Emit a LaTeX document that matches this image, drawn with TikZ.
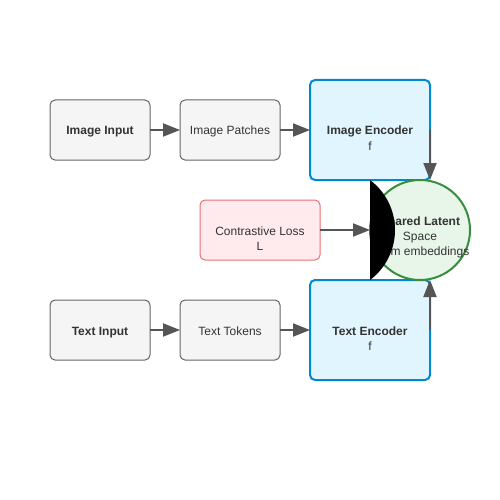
\documentclass[tikz,border=0pt]{standalone}
\usepackage{fontspec}
\setmainfont{Liberation Sans}
\usetikzlibrary{arrows.meta,calc}
\definecolor{txtc}{HTML}{333333}
\definecolor{grayfill}{HTML}{F5F5F5}
\definecolor{graystroke}{HTML}{666666}
\definecolor{bluefill}{HTML}{E1F5FE}
\definecolor{bluestroke}{HTML}{0288D1}
\definecolor{redfill}{HTML}{FFEBEE}
\definecolor{redstroke}{HTML}{E57373}
\definecolor{greenfill}{HTML}{E8F5E9}
\definecolor{greenstroke}{HTML}{388E3C}
\definecolor{arrc}{HTML}{555555}
\begin{document}
\begin{tikzpicture}[x=1pt,y=-1pt,
  every node/.style={inner sep=0pt, outer sep=0pt, text=txtc, font=\fontsize{12}{15}\selectfont},
  graybox/.style={draw=graystroke, fill=grayfill, line width=1pt, rounded corners=5pt, minimum width=100pt, minimum height=60pt},
  bluebox/.style={draw=bluestroke, fill=bluefill, line width=2pt, rounded corners=5pt, minimum width=120pt, minimum height=100pt},
  redbox/.style={draw=redstroke, fill=redfill, line width=1pt, rounded corners=5pt, minimum width=120pt, minimum height=60pt},
  latent/.style={circle, draw=greenstroke, fill=greenfill, line width=2pt, minimum size=100pt},
  txt/.style={anchor=base},
  arr/.style={draw=arrc, line width=2pt, -{Triangle[length=17pt,width=13pt]}}
]
\useasboundingbox (0,0) rectangle (500,500);
\fill[white] (0,0) rectangle (500,500);

% top row
\node[graybox] (ii) at (100,130) {};
\node[txt] (ii1) at (100,135) {\bfseries Image Input};
\node[graybox] (ip) at (230,130) {};
\node[txt] (ip1) at (230,135) {Image Patches};
\node[bluebox] (ie) at (370,130) {};
\node[txt] (ie1) at (370,135) {\bfseries Image Encoder};
\node[txt] (ie2) at (370,150) {f};

% bottom row
\node[graybox] (ti) at (100,330) {};
\node[txt] (ti1) at (100,335) {\bfseries Text Input};
\node[graybox] (tt) at (230,330) {};
\node[txt] (tt1) at (230,335) {Text Tokens};
\node[bluebox] (te) at (370,330) {};
\node[txt] (te1) at (370,335) {\bfseries Text Encoder};
\node[txt] (te2) at (370,350) {f};

% contrastive loss
\node[redbox] (cl) at (260,230) {};
\node[txt] (cl1) at (260,235) {Contrastive Loss};
\node[txt] (cl2) at (260,250) {L};

% latent space
\node[latent] (sls) at (420,230) {};
\node[txt] (sls1) at (420,225) {\bfseries Shared Latent};
\node[txt] (sls2) at (420,240) {Space};
\node[txt] (sls3) at (420,255) {d-dim embeddings};

% connectors
\draw[arr] (ii.east) -- (ip.west);
\draw[arr] (ip.east) -- (ie.west);
\draw[arr] (ti.east) -- (tt.west);
\draw[arr] (tt.east) -- (te.west);
\draw[arr] (ie.east) -- (ie.east |- sls.north);
\draw[arr] (te.east) -- (te.east |- sls.south);
\draw[arr] (cl.east) -- (sls.west);

% black segment
\fill[black] (370,180) arc[start angle=-53.13, end angle=53.13, radius=62.5] -- cycle;
\end{tikzpicture}
\end{document}
